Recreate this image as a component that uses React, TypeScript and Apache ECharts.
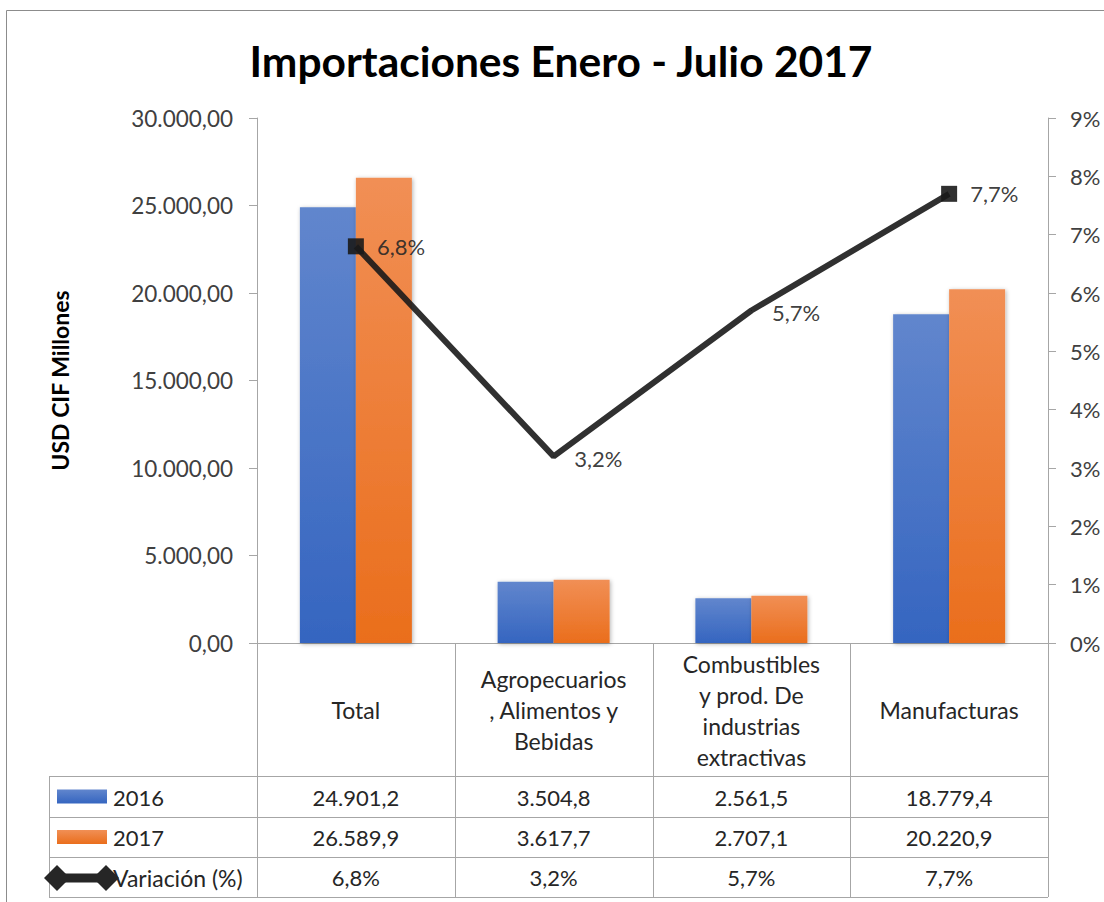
import React, { useEffect, useRef } from "react";
import * as echarts from "echarts";

// ---------- data ----------
const titleText = "Importaciones Enero - Julio 2017";
const yAxisTitle = "USD CIF Millones";
const categories = [
  "Total",
  "Agropecuarios\n, Alimentos y\nBebidas",
  "Combustibles\ny prod. De\nindustrias\nextractivas",
  "Manufacturas",
];
const seriesNames = ["2016", "2017", "Variación (%)"];
const values2016 = [24901.2, 3504.8, 2561.5, 18779.4];
const values2017 = [26589.9, 3617.7, 2707.1, 20220.9];
const variation = [6.8, 3.2, 5.7, 7.7];
const leftAxis = { min: 0, max: 30000, interval: 5000 };
const rightAxis = { min: 0, max: 9, interval: 1 };

// ---------- helpers ----------
function fmt(v: number, decimals: number): string {
  const s = v.toFixed(decimals);
  const [intPart, dec] = s.split(".");
  const withSep = intPart.replace(/\B(?=(\d{3})+(?!\d))/g, ".");
  return dec !== undefined ? withSep + "," + dec : withSep;
}

// ---------- layout ----------
const W = 1104;
const H = 902;
const gridLeft = 257;
const gridRight = 1048;
const gridTop = 118;
const gridBottom = 643;
const tableLeft = 49;
const rowLines = [776, 817, 857, 897];
const FONT = "Lato";
const AXIS_COLOR = "#a6a6a6";
const TEXT_DARK = "#262626";
const TEXT_AXIS = "#404040";

const blueGrad = () =>
  new echarts.graphic.LinearGradient(0, 0, 0, 1, [
    { offset: 0, color: "#6186cd" },
    { offset: 1, color: "#3565c0" },
  ]);
const orangeGrad = () =>
  new echarts.graphic.LinearGradient(0, 0, 0, 1, [
    { offset: 0, color: "#f18f55" },
    { offset: 1, color: "#ea6e1c" },
  ]);

export default function App() {
  const ref = useRef<HTMLDivElement>(null);

  useEffect(() => {
    if (!ref.current) return;
    const chart = echarts.init(ref.current, null, { renderer: "svg" });
    const colW = (gridRight - gridLeft) / categories.length;

    const graphics: any[] = [];
    // outer frame
    graphics.push({
      type: "rect",
      shape: { x: 6.5, y: 10.5, width: 1300, height: 1200 },
      style: { fill: "none", stroke: "#8c8c8c", lineWidth: 1 },
      silent: true,
    });
    // title
    graphics.push({
      type: "text",
      x: 561,
      y: 60,
      style: {
        text: titleText,
        fontSize: 42.5,
        fontWeight: "bold",
        fontFamily: FONT,
        fill: "#000",
        textAlign: "center",
        textVerticalAlign: "middle",
      },
    });
    // table horizontal lines
    rowLines.forEach((y) => {
      graphics.push({
        type: "line",
        shape: { x1: tableLeft, y1: y + 0.5, x2: gridRight, y2: y + 0.5 },
        style: { stroke: AXIS_COLOR, lineWidth: 1 },
        silent: true,
      });
    });
    // table vertical lines
    graphics.push({
      type: "line",
      shape: { x1: tableLeft + 0.5, y1: rowLines[0], x2: tableLeft + 0.5, y2: rowLines[rowLines.length - 1] },
      style: { stroke: AXIS_COLOR, lineWidth: 1 },
      silent: true,
    });
    for (let i = 0; i <= categories.length; i++) {
      const x = Math.round(gridLeft + i * colW) + 0.5;
      graphics.push({
        type: "line",
        shape: { x1: x, y1: gridBottom, x2: x, y2: rowLines[rowLines.length - 1] },
        style: { stroke: AXIS_COLOR, lineWidth: 1 },
        silent: true,
      });
    }
    // table rows
    const rows = [
      values2016.map((v) => fmt(v, 1)),
      values2017.map((v) => fmt(v, 1)),
      variation.map((v) => fmt(v, 1) + "%"),
    ];
    rows.forEach((row, r) => {
      const yc = (rowLines[r] + rowLines[r + 1]) / 2 + 0.5;
      graphics.push({
        type: "text",
        x: 113,
        y: yc,
        style: {
          text: seriesNames[r],
          fontSize: r === 2 ? 23 : 22,
          fontFamily: FONT,
          fill: TEXT_DARK,
          textAlign: "left",
          textVerticalAlign: "middle",
        },
      });
      row.forEach((txt, i) => {
        graphics.push({
          type: "text",
          x: gridLeft + (i + 0.5) * colW,
          y: yc,
          style: {
            text: txt,
            fontSize: 22,
            fontFamily: FONT,
            fill: TEXT_DARK,
            textAlign: "center",
            textVerticalAlign: "middle",
          },
        });
      });
    });
    // legend keys inside table
    const k1 = (rowLines[0] + rowLines[1]) / 2;
    const k2 = (rowLines[1] + rowLines[2]) / 2;
    const k3 = (rowLines[2] + rowLines[3]) / 2 + 1;
    graphics.push({
      type: "rect",
      shape: { x: 57, y: k1 - 7, width: 50, height: 14 },
      style: { fill: blueGrad() },
    });
    graphics.push({
      type: "rect",
      shape: { x: 57, y: k2 - 7, width: 50, height: 14 },
      style: { fill: orangeGrad() },
    });
    graphics.push({
      type: "line",
      shape: { x1: 57, y1: k3, x2: 106, y2: k3 },
      style: { stroke: "#262626", lineWidth: 9 },
    });
    [57, 106].forEach((cx) => {
      graphics.push({
        type: "polygon",
        shape: {
          points: [
            [cx, k3 - 13],
            [cx + 13, k3],
            [cx, k3 + 13],
            [cx - 13, k3],
          ],
        },
        style: { fill: "#262626" },
      });
    });

    const lineData = variation.map((v, i) => {
      const endPoint = i === 0 || i === variation.length - 1;
      return {
        value: v,
        symbol: endPoint ? "rect" : "circle",
        symbolSize: endPoint ? 16 : 1,
        label: { distance: endPoint ? 13 : 20, offset: endPoint ? [0, 0] : [0, 2] },
      };
    });

    const barShadow = {
      shadowBlur: 4,
      shadowColor: "rgba(0,0,0,0.3)",
      shadowOffsetX: 1,
      shadowOffsetY: 1,
    };

    chart.setOption({
      animation: false,
      backgroundColor: "#fff",
      textStyle: { fontFamily: FONT },
      grid: {
        left: gridLeft,
        right: W - gridRight,
        top: gridTop,
        bottom: H - gridBottom,
        containLabel: false,
      },
      xAxis: {
        type: "category",
        data: categories,
        boundaryGap: true,
        axisLine: { show: true, lineStyle: { color: AXIS_COLOR, width: 1 } },
        axisTick: { show: false },
        axisLabel: {
          interval: 0,
          margin: 67,
          verticalAlign: "middle",
          lineHeight: 31,
          fontSize: 23,
          fontFamily: FONT,
          color: TEXT_DARK,
        },
        splitLine: { show: false },
      },
      yAxis: [
        {
          type: "value",
          min: leftAxis.min,
          max: leftAxis.max,
          interval: leftAxis.interval,
          name: yAxisTitle,
          nameLocation: "middle",
          nameRotate: 90,
          nameGap: 186,
          nameTextStyle: {
            fontSize: 23,
            fontWeight: "bold",
            fontFamily: FONT,
            color: "#000",
          },
          axisLine: { show: true, lineStyle: { color: AXIS_COLOR, width: 1 } },
          axisTick: { show: true, inside: false, length: 8, lineStyle: { color: AXIS_COLOR } },
          axisLabel: {
            margin: 24,
            fontSize: 22.5,
            fontFamily: FONT,
            color: TEXT_AXIS,
            formatter: (v: number) => fmt(v, 2),
          },
          splitLine: { show: false },
        },
        {
          type: "value",
          position: "right",
          min: rightAxis.min,
          max: rightAxis.max,
          interval: rightAxis.interval,
          axisLine: { show: true, lineStyle: { color: AXIS_COLOR, width: 1 } },
          axisTick: { show: true, inside: false, length: 8, lineStyle: { color: AXIS_COLOR } },
          axisLabel: {
            margin: 22,
            fontSize: 22,
            fontFamily: FONT,
            color: TEXT_AXIS,
            formatter: (v: number) => v + "%",
          },
          splitLine: { show: false },
        },
      ],
      series: [
        {
          name: seriesNames[0],
          type: "bar",
          yAxisIndex: 0,
          data: values2016,
          barWidth: 56,
          barGap: "0%",
          itemStyle: { color: blueGrad(), ...barShadow },
        },
        {
          name: seriesNames[1],
          type: "bar",
          yAxisIndex: 0,
          data: values2017,
          barWidth: 56,
          barGap: "0%",
          itemStyle: { color: orangeGrad(), ...barShadow },
        },
        {
          name: seriesNames[2],
          type: "line",
          yAxisIndex: 1,
          data: lineData,
          z: 5,
          lineStyle: { color: "#1a1a1a", width: 6, opacity: 0.9 },
          itemStyle: { color: "#1a1a1a", opacity: 0.9 },
          label: {
            show: true,
            position: "right",
            fontSize: 22,
            fontFamily: FONT,
            color: TEXT_DARK,
            formatter: (p: any) => fmt(p.value, 1) + "%",
          },
        },
      ],
      graphic: graphics,
    });

    return () => chart.dispose();
  }, []);

  return (
    <div
      ref={ref}
      style={{ position: "fixed", left: 0, top: 0, width: W, height: H, background: "#fff" }}
    />
  );
}
